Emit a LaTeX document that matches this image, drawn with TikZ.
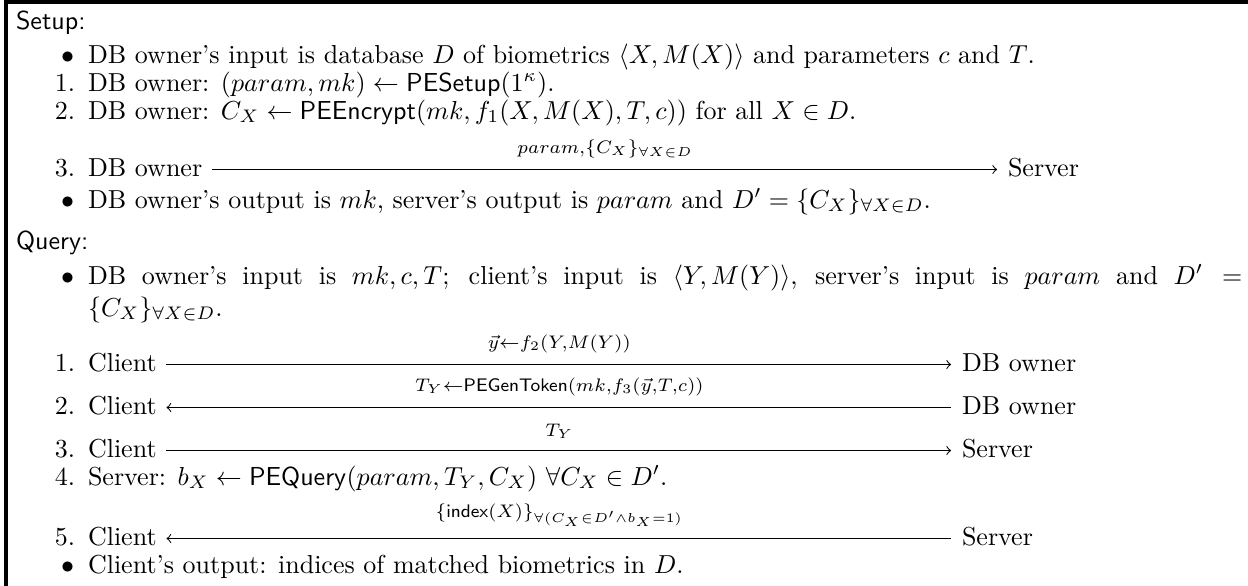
\documentclass[tikz,border=0pt]{standalone}
\usepackage{amsmath}
\begin{document}
\begin{tikzpicture}[x=0.384615pt,y=0.384615pt,
  txt/.style={anchor=base west,inner sep=0pt,outer sep=0pt},
  lbl/.style={anchor=base east,inner sep=0pt,outer sep=0pt},
  hdr/.style={anchor=base west,inner sep=0pt,outer sep=0pt,font=\sffamily},
  msg/.style={line width=0.4pt,shorten <=3.8pt,shorten >=4.2pt},
  msglbl/.style={anchor=south,inner sep=0pt,outer sep=0pt,yshift=4.5pt},
  frameline/.style={line width=1.2pt}]
\useasboundingbox (0,0) rectangle (1248,-585);
\clip (0,0) rectangle (1248,-585);
\draw[frameline] (6,-600) -- (6,-2) -- (1260,-2);
% Setup
\node[hdr] (setup) at (16,-29) {Setup:};
\node[lbl] (s0b) at (74,-63) {$\bullet$};
\node[txt] (s0) at (88,-63) {DB owner's input is database $D$ of biometrics $\langle X, M(X)\rangle$ and parameters $c$ and $T$.};
\node[lbl] (s1n) at (75,-91) {1.};
\node[txt] (s1) at (88,-91) {DB owner: $(param, mk) \leftarrow \mathsf{PESetup}(1^\kappa)$.};
\node[lbl] (s2n) at (75,-119) {2.};
\node[txt] (s2) at (88,-119) {DB owner: $C_X \leftarrow \mathsf{PEEncrypt}(mk, f_1(X, M(X), T, c))$ for all $X \in D$.};
\node[lbl] (s3n) at (75,-176) {3.};
\node[txt] (s3a) at (88,-176) {DB owner};
\node[txt] (s3b) at (1008,-176) {Server};
\draw[msg,->] ([yshift=2.5pt]s3a.base east) -- node[msglbl] (s3l) {$\scriptstyle param,\{C_X\}_{\forall X\in D}$} ([yshift=2.5pt]s3b.base west);
\node[lbl] (s4b) at (74,-208) {$\bullet$};
\node[txt] (s4) at (88,-208) {DB owner's output is $mk$, server's output is $param$ and $D' = \{C_X\}_{\forall X\in D}$.};
% Query
\node[hdr] (query) at (16,-249) {Query:};
\node[lbl] (q0b) at (74,-284) {$\bullet$};
\node[txt] (q0) at (88,-284) {\makebox[444pt][s]{DB owner's input is $mk, c, T$; client's input is $\langle Y, M(Y)\rangle$, server's input is $param$ and $D' =$}};
\node[txt] (q0c) at (88,-316) {$\{C_X\}_{\forall X\in D}$.};
\node[lbl] (q1n) at (75,-371) {1.};
\node[txt] (q1a) at (88,-371) {Client};
\node[txt] (q1b) at (962,-371) {DB owner};
\draw[msg,->] ([yshift=2.5pt]q1a.base east) -- node[msglbl] (q1l) {$\scriptstyle \vec{y}\leftarrow f_2(Y,M(Y))$} ([yshift=2.5pt]q1b.base west);
\node[lbl] (q2n) at (75,-414) {2.};
\node[txt] (q2a) at (88,-414) {Client};
\node[txt] (q2b) at (962,-414) {DB owner};
\draw[msg,<-] ([yshift=2.5pt]q2a.base east) -- node[msglbl] (q2l) {$\scriptstyle T_Y\leftarrow \mathsf{PEGenToken}(mk,f_3(\vec{y},T,c))$} ([yshift=2.5pt]q2b.base west);
\node[lbl] (q3n) at (75,-457) {3.};
\node[txt] (q3a) at (88,-457) {Client};
\node[txt] (q3b) at (962,-457) {Server};
\draw[msg,->] ([yshift=2.5pt]q3a.base east) -- node[msglbl] (q3l) {$\scriptstyle T_Y$} ([yshift=2.5pt]q3b.base west);
\node[lbl] (q4n) at (75,-485) {4.};
\node[txt] (q4) at (88,-485) {Server: $b_X \leftarrow \mathsf{PEQuery}(param, T_Y, C_X)\ \forall C_X \in D'$.};
\node[lbl] (q5n) at (75,-545) {5.};
\node[txt] (q5a) at (88,-545) {Client};
\node[txt] (q5b) at (962,-545) {Server};
\draw[msg,<-] ([yshift=2.5pt]q5a.base east) -- node[msglbl] (q5l) {$\scriptstyle \{\mathsf{index}(X)\}_{\forall (C_X\in D'\wedge b_X=1)}$} ([yshift=2.5pt]q5b.base west);
\node[lbl] (q6b) at (74,-573) {$\bullet$};
\node[txt] (q6) at (88,-573) {Client's output: indices of matched biometrics in $D$.};
\end{tikzpicture}
\end{document}
